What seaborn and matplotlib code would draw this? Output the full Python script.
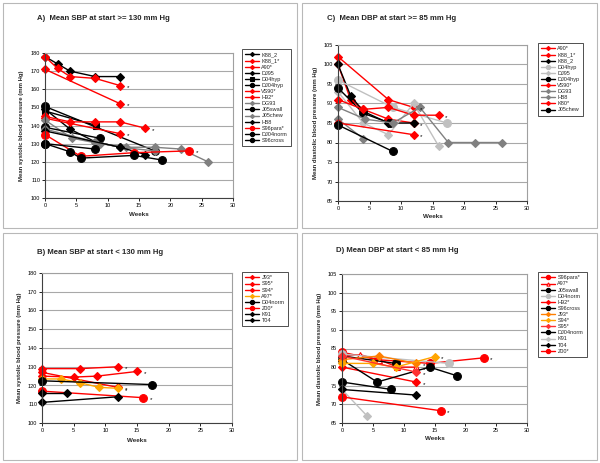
import matplotlib
matplotlib.use('Agg')
import matplotlib.pyplot as plt
import seaborn as sns
from matplotlib.patches import Rectangle

sns.set_theme(style='white')
plt.rcParams['font.family'] = ['Liberation Sans', 'DejaVu Sans']

# ---------------- data ----------------
A_names = ["K88_2", "K88_1*", "A90*", "DJ95", "D04hyp", "DJ04hyp", "VS90*", "H92*", "DG93",
           "J05swall", "J05chew", "H88", "S96para*", "DJ04norm", "S96cross"]
A_weeks = [[0, 2, 4, 8, 12], [0, 2, 4, 8, 12], [0, 12], [0, 4, 8, 12], [0, 8.2], [0, 17.5],
           [0, 4, 8, 12, 16], [0, 12], [0, 4.3, 8.7, 13, 17.5, 21.7, 26], [0, 8.7], [0, 8, 12, 17.5],
           [0, 12, 16], [0, 5.7, 14.2, 23], [0, 8], [0, 4, 5.7, 14.2, 18.6]]
A_values = [[178, 174, 170, 167, 167], [178, 171.5, 167, 166, 162], [171, 152], [149, 138, 131, 128],
            [148, 140], [150.5, 126], [145, 142, 142, 142, 138.5], [144, 135.5],
            [143, 133, 130, 128, 128, 127, 120], [139, 133], [138, 131, 128, 126], [137, 128, 124],
            [135, 123, 125, 126], [130, 127], [130, 125.5, 122, 123.5, 121]]

C_names = ["A90*", "K88_1*", "K88_2", "D04hyp", "DJ95", "DJ04hyp", "VS90*", "DG93", "H88", "K80*", "J05chew"]
C_weeks = [[0, 8, 12], [0, 2, 4, 8, 12], [0, 2, 4, 8, 12], [0, 8.7, 17.3], [0, 4, 8, 12, 16],
           [0, 4, 8.2], [0, 4, 8, 12, 16], [0, 4.3, 8.7, 13, 17.5, 21.7, 26], [0, 4], [0, 12], [0, 8.7]]
C_values = [[102, 91, 89], [100, 91, 88.5, 86, 85], [100, 92, 88, 85, 85], [96, 89, 85],
            [93, 85, 82, 90, 79], [94, 87.5, 85], [91, 88.5, 89, 87, 87],
            [89, 86, 85, 89, 80, 80, 80], [86, 81], [85, 82], [84.5, 77.7]]

B_names = ["J93*", "S95*", "S94*", "A97*", "D04norm", "Z00*", "K91", "T04"]
B_weeks = [[0, 6, 12], [0, 5, 8.7, 15], [0, 12], [0, 3, 6, 9, 12], [0, 17.3], [0, 16], [0, 4], [0, 12]]
B_values = [[129, 129, 130], [125, 124.5, 125, 127.5], [127, 119], [123.5, 123.5, 121.5, 119, 118.5],
            [122.5, 120.5], [117, 113.5], [116, 116], [111, 114]]

D_names = ["S96para*", "A97*", "J05swall", "D04norm", "H92*", "S96cross", "J93*", "S94*", "S95*",
           "DJ04norm", "K91", "T04", "Z00*"]
D_weeks = [[0, 5.7, 14.2, 23], [0, 3, 6, 9, 12], [0, 8.7], [0, 17.3], [0, 12], [0, 5.7, 14.2, 18.6],
           [0, 6, 12], [0, 5, 8.7, 15], [0, 12], [0, 8], [0, 4], [0, 12], [0, 16]]
D_values = [[84, 82, 81, 82.5], [83, 83.3, 82, 80, 80], [83, 81], [83.5, 81], [80, 76], [82, 76, 80, 77.7],
            [82, 83, 81], [81, 81, 80, 82.8], [83, 78.7], [76, 74], [74, 67], [74, 72.5], [72, 68.3]]

# ---------------- styles ----------------
RED, BLK, GRY, LGR, ORG, DOR = '#ff0000', '#000000', '#808080', '#c0c0c0', '#ffa500', '#ff7f00'
A_style = [(BLK, 'D'), (RED, 'D'), (RED, 'D'), (BLK, 'D'), (BLK, 's'), (BLK, 'o'), (RED, 'D'), (RED, 'D'),
           (GRY, 'D'), (BLK, 'o'), (GRY, 'D'), (BLK, 'D'), (RED, 'o'), (BLK, 'o'), (BLK, 'o')]
C_style = [(RED, 'D'), (RED, 'D'), (BLK, 'D'), (LGR, 'o'), (LGR, 'D'), (BLK, 'o'), (RED, 'D'), (GRY, 'D'),
           (GRY, 'D'), (RED, 'D'), (BLK, 'o')]
B_style = [(RED, 'D'), (RED, 'D'), (RED, 'D'), (ORG, 'D'), (BLK, 'o'), (RED, 'o'), (BLK, 'D'), (BLK, 'D')]
D_style = [(RED, 'o'), (RED, '^'), (BLK, 'o'), (LGR, 'o'), (RED, 'D'), (BLK, 'o'), (DOR, 'D'), (ORG, 'D'),
           ('#ff3030', 'D'), (BLK, 'o'), (LGR, 'D'), (BLK, 'D'), (RED, 'o')]

W, H = 600, 463
fig = plt.figure(figsize=(6, 4.63), dpi=100)
fig.patch.set_facecolor('white')

def fx(x): return x / W
def fy(y): return 1 - y / H

# panel frames
for (x0, y0, x1, y1) in [(3, 3, 297, 228), (302, 3, 597, 228), (3, 233, 297, 460), (302, 233, 597, 460)]:
    fig.patches.append(Rectangle((fx(x0), fy(y1)), fx(x1 - x0), (y1 - y0) / H, transform=fig.transFigure,
                                 fill=False, edgecolor='#b8b8b8', lw=0.8))

panels = [
    dict(names=A_names, weeks=A_weeks, values=A_values, style=A_style, box=(45, 53, 233, 198),
         ylim=(100, 180), ystep=10, ylabel='Mean systolic blood pressure (mm Hg)',
         title='A)  Mean SBP at start >= 130 mm Hg', tpos=(37, 19), leg=(242, 49), ylx=22, xly=215),
    dict(names=C_names, weeks=C_weeks, values=C_values, style=C_style, box=(338, 45, 527, 201),
         ylim=(65, 105), ystep=5, ylabel='Mean diastolic blood pressure (mm Hg)',
         title='C)  Mean DBP at start >= 85 mm Hg', tpos=(327, 19), leg=(538, 43), ylx=316, xly=217),
    dict(names=B_names, weeks=B_weeks, values=B_values, style=B_style, box=(42, 273, 232, 423),
         ylim=(100, 180), ystep=10, ylabel='Mean systolic blood pressure (mm Hg)',
         title='B) Mean SBP at start < 130 mm Hg', tpos=(37, 252), leg=(242, 272), ylx=20, xly=441),
    dict(names=D_names, weeks=D_weeks, values=D_values, style=D_style, box=(342, 274, 527, 423),
         ylim=(65, 105), ystep=5, ylabel='Mean diastolic blood pressure (mm Hg)',
         title='D) Mean DBP at start < 85 mm Hg', tpos=(336, 251), leg=(538, 272), ylx=319, xly=439),
]

for p in panels:
    x0, y0, x1, y1 = p['box']
    ax = fig.add_axes([fx(x0), fy(y1), (x1 - x0) / W, (y1 - y0) / H])
    for name, w, v, (c, m) in zip(p['names'], p['weeks'], p['values'], p['style']):
        ms = 5.6 if m == 'o' else (3.8 if m == 'D' else 4.3)
        fc = 'white' if m == '^' else c
        sns.lineplot(x=w, y=v, ax=ax, color=c, marker=m, markersize=ms, markerfacecolor=fc,
                     markeredgecolor=c, markeredgewidth=0.8, linewidth=1.0, label=name, sort=False,
                     clip_on=False)
        if name.endswith('*'):
            ax.annotate('*', (w[-1], v[-1]), xytext=(5.5, -1.5), textcoords='offset points',
                        fontsize=4.5, ha='center', va='center', color='black')
    lo, hi = p['ylim']
    ax.set_xlim(0, 30)
    ax.set_ylim(lo, hi)
    ax.set_xticks(range(0, 31, 5))
    ax.set_yticks(range(lo, hi + 1, p['ystep']))
    ax.yaxis.grid(True, color='#a8a8a8', lw=0.8)
    ax.set_axisbelow(True)
    ax.tick_params(axis='both', labelsize=4, length=2, width=0.6, pad=1.5, direction='out',
                   colors='black', bottom=True, left=True)
    for s in ['top', 'right']:
        ax.spines[s].set_color('#a0a0a0')
        ax.spines[s].set_linewidth(0.8)
    for s in ['left', 'bottom']:
        ax.spines[s].set_color('#404040')
        ax.spines[s].set_linewidth(0.8)
    ax.set_xlabel('')
    ax.set_ylabel('')
    fig.text(fx((x0 + x1) / 2), fy(p['xly']), 'Weeks', fontsize=4.5, fontweight='bold',
             ha='center', va='center')
    fig.text(fx(p['ylx']), fy((y0 + y1) / 2), p['ylabel'], fontsize=4.3, fontweight='bold',
             rotation=90, ha='center', va='center')
    fig.text(fx(p['tpos'][0]), fy(p['tpos'][1]), p['title'], fontsize=5.6, fontweight='bold',
             ha='left', va='center')
    lx, ly = p['leg']
    leg = ax.legend(loc='upper left', bbox_to_anchor=(fx(lx), fy(ly)), bbox_transform=fig.transFigure,
                    fontsize=4, frameon=True, fancybox=False, edgecolor='black', borderpad=0.6,
                    labelspacing=0.2, handlelength=2.4, handletextpad=0.5, borderaxespad=0,
                    markerscale=0.55)
    leg.get_frame().set_linewidth(0.6)

fig.savefig('out.png', dpi=100, facecolor='white')
